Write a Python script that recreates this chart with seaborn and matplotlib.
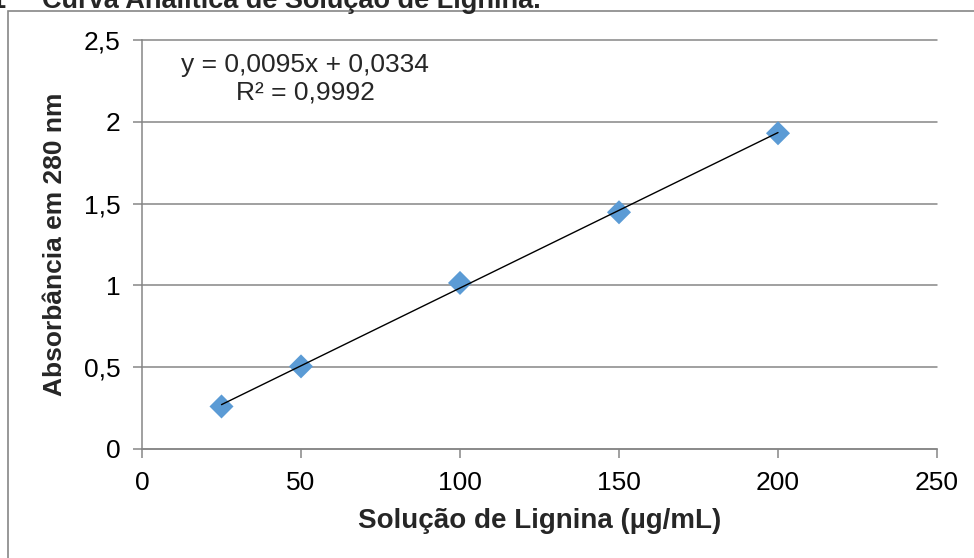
import matplotlib
matplotlib.use("Agg")
import matplotlib.pyplot as plt
import seaborn as sns
import numpy as np
import pandas as pd
from matplotlib.patches import Rectangle

# Data
concentracao = [25, 50, 100, 150, 200]
absorbancia = [0.26, 0.505, 1.015, 1.447, 1.93]
x_ticks = [0, 50, 100, 150, 200, 250]
x_tick_labels = ["0", "50", "100", "150", "200", "250"]
y_ticks = [0, 0.5, 1, 1.5, 2, 2.5]
y_tick_labels = ["0", "0,5", "1", "1,5", "2", "2,5"]
equation_text = "y = 0,0095x + 0,0334\nR² = 0,9992"
title_number = "1"
title_text = "Curva Analítica de Solução de Lignina."
x_label = "Solução de Lignina (µg/mL)"
y_label = "Absorbância em 280 nm"

sns.set_style("white")
plt.rcParams["font.family"] = ["Liberation Sans", "DejaVu Sans"]

W, H = 974, 558
fig = plt.figure(figsize=(W / 100, H / 100), dpi=100)
ax = fig.add_axes([142 / W, 1 - 449 / H, (937 - 142) / W, (449 - 40) / H])

gray = "#868686"
df = pd.DataFrame({"x": concentracao, "y": absorbancia})

# Trendline (linear fit)
slope, intercept = np.polyfit(df["x"], df["y"], 1)
fit = pd.DataFrame({"x": [min(concentracao), max(concentracao)]})
fit["y"] = slope * fit["x"] + intercept

for yt in y_ticks:
    ax.axhline(yt, color=gray, lw=1.1, zorder=0, clip_on=False)

sns.scatterplot(data=df, x="x", y="y", ax=ax, marker="D", s=150,
                color="#5B9BD5", edgecolor="none", zorder=3)
sns.lineplot(data=fit, x="x", y="y", ax=ax, color="black", lw=1.0, zorder=4)

ax.set_xlim(0, 250)
ax.set_ylim(0, 2.5)
ax.set_xticks(x_ticks)
ax.set_xticklabels(x_tick_labels)
ax.set_yticks(y_ticks)
ax.set_yticklabels(y_tick_labels)
ax.tick_params(axis="both", direction="out", length=6.5, width=1.1,
               color=gray, labelsize=19, labelcolor="black", pad=9)
ax.tick_params(axis="both", which="both", left=True, bottom=True)

for side in ["top", "right"]:
    ax.spines[side].set_visible(False)
for side in ["left", "bottom"]:
    ax.spines[side].set_color(gray)
    ax.spines[side].set_linewidth(1.1)

ax.set_xlabel(x_label, fontsize=20, fontweight="bold", labelpad=10)
ax.set_ylabel(y_label, fontsize=19, fontweight="bold", labelpad=12)

ax.text(0.205, 0.905, equation_text, transform=ax.transAxes, ha="center",
        va="center", fontsize=19, linespacing=1.15)

# Chart frame (partially cropped)
fig.patches.append(Rectangle((8 / W, -0.5), 2.0, 0.5 + 1 - 11 / H,
                             transform=fig.transFigure, fill=False,
                             edgecolor=gray, lw=1.2, zorder=0))

# Title (cropped at the top edge of the image)
fig.text(5 / W, 1 - 8 / H, title_number, ha="right", va="baseline",
         fontsize=19.5, fontweight="bold")
fig.text(42 / W, 1 - 8 / H, title_text, ha="left", va="baseline",
         fontsize=19.5, fontweight="bold")

fig.savefig("out.png", dpi=100)
